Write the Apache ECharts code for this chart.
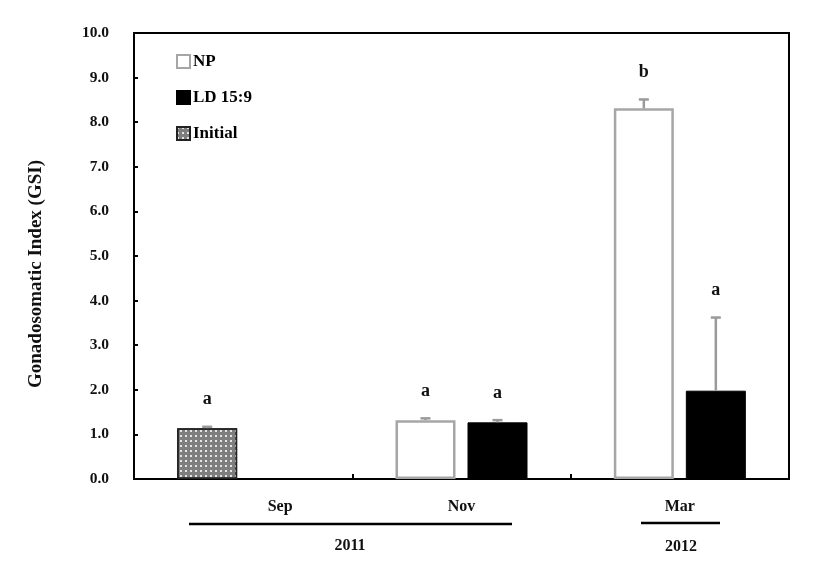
<!DOCTYPE html>
<html>
<head>
<meta charset="utf-8">
<script src="https://cdn.jsdelivr.net/npm/echarts@6/dist/echarts.min.js"></script>
<style>
html,body{margin:0;padding:0;background:#fff;}
#chart{width:827px;height:573px;}
</style>
</head>
<body>
<div id="chart"></div>
<script>
// ---- data ----
var categories = ['Sep', 'Nov', 'Mar'];
var initialValues = [1.14, '-', '-'];
var npValues = ['-', 1.32, 8.31];
var ldValues = ['-', 1.27, 1.98];
var initialErr = [0.03, null, null];
var npErr = [null, 0.04, 0.20];
var ldErr = [null, 0.05, 1.64];
var initialLetters = ['a', '', ''];
var npLetters = ['', 'a', 'b'];
var ldLetters = ['', 'a', 'a'];
var yTicks = [0, 1, 2, 3, 4, 5, 6, 7, 8, 9, 10];
var yearGroups = ['2011', '2012'];

var SERIF = '"Liberation Serif", "Times New Roman", serif';
var BAR_W = 60;
var BAR_GAP = 0.2;
var SLOT_OFF = BAR_W * (1 + BAR_GAP) / 2;

function errData(vals, errs, letters, slot) {
  var out = [];
  for (var i = 0; i < vals.length; i++) {
    if (vals[i] === '-' || errs[i] == null) continue;
    out.push([i, vals[i], errs[i], slot, letters[i]]);
  }
  return out;
}
var errAll = []
  .concat(errData(initialValues, initialErr, initialLetters, -1))
  .concat(errData(npValues, npErr, npLetters, -1))
  .concat(errData(ldValues, ldErr, ldLetters, 1));

var chart = echarts.init(document.getElementById('chart'), null, {renderer: 'canvas'});
var option = {
  backgroundColor: '#fff',
  animation: false,
  grid: {left: 134, top: 33, right: 38, bottom: 94, show: true, borderColor: '#000', borderWidth: 2, backgroundColor: 'transparent'},
  legend: {
    data: ['NP', 'LD 15:9', 'Initial'],
    orient: 'vertical',
    left: 171, top: 48,
    icon: 'rect',
    itemWidth: 13, itemHeight: 13, itemGap: 19,
    textStyle: {fontFamily: SERIF, fontWeight: 'bold', fontSize: 17, color: '#000', padding: [0, 0, 0, -2]}
  },
  xAxis: {
    type: 'category',
    data: categories,
    axisLine: {lineStyle: {color: '#000', width: 2}},
    axisTick: {show: true, inside: true, length: 5, lineStyle: {color: '#000', width: 2}},
    axisLabel: {
      margin: 20,
      fontFamily: SERIF, fontWeight: 'bold', fontSize: 16, color: '#111',
      formatter: function (v, i) { return i === 0 ? '{s|' + v + '}' : v; },
      rich: {s: {fontFamily: SERIF, fontWeight: 'bold', fontSize: 16, color: '#111', padding: [0, 0, 0, 74]}}
    },
    splitLine: {show: false}
  },
  yAxis: {
    type: 'value',
    min: yTicks[0], max: yTicks[yTicks.length - 1], interval: 1,
    name: 'Gonadosomatic Index (GSI)',
    nameLocation: 'middle',
    nameGap: 88,
    nameTextStyle: {fontFamily: SERIF, fontWeight: 'bold', fontSize: 19, color: '#111', padding: [0, 36, 0, 0]},
    axisLine: {show: true, lineStyle: {color: '#000', width: 2}},
    axisTick: {show: true, inside: true, length: 4, lineStyle: {color: '#000', width: 2}},
    axisLabel: {margin: 25, fontFamily: SERIF, fontWeight: 'bold', fontSize: 15.5, color: '#111',
      formatter: function (v) { return v.toFixed(1); }},
    splitLine: {show: false}
  },
  series: [
    {
      name: 'Initial', type: 'bar', stack: 's1', data: initialValues,
      barWidth: BAR_W, barGap: (BAR_GAP * 100) + '%',
      itemStyle: {
        color: '#7e7e7e', borderColor: '#222', borderWidth: 1.5,
        decal: {symbol: 'rect', symbolSize: 1, color: 'rgba(255,255,255,0.8)', dashArrayX: [2, 3], dashArrayY: [2, 3], rotation: 0}
      }
    },
    {
      name: 'NP', type: 'bar', stack: 's1', data: npValues,
      barWidth: BAR_W, barGap: (BAR_GAP * 100) + '%',
      itemStyle: {color: '#fff', borderColor: '#a6a6a6', borderWidth: 2.5}
    },
    {
      name: 'LD 15:9', type: 'bar', stack: 's2', data: ldValues,
      barWidth: BAR_W, barGap: (BAR_GAP * 100) + '%',
      itemStyle: {color: '#000', borderColor: '#000', borderWidth: 1}
    },
    {
      name: 'err', type: 'custom', data: errAll, z: 5,
      encode: {x: 0, y: 1},
      renderItem: function (params, api) {
        var idx = api.value(0), val = api.value(1), err = api.value(2), slot = api.value(3);
        var letter = errAll[params.dataIndex][4];
        var base = api.coord([idx, val]);
        var top = api.coord([idx, val + err]);
        var x = base[0] + slot * SLOT_OFF;
        var style = {stroke: '#9a9a9a', lineWidth: 2.5};
        return {
          type: 'group',
          children: [
            {type: 'line', shape: {x1: x, y1: base[1], x2: x, y2: top[1]}, style: style},
            {type: 'line', shape: {x1: x - 5, y1: top[1], x2: x + 5, y2: top[1]}, style: style},
            {type: 'text', x: x, y: top[1] - 27, style: {text: letter, textAlign: 'center', textVerticalAlign: 'middle',
              font: 'bold 18px ' + SERIF, fill: '#111'}}
          ]
        };
      }
    }
  ],
  graphic: [
    {type: 'line', shape: {x1: 189, y1: 524, x2: 512, y2: 524}, style: {stroke: '#000', lineWidth: 2.5}},
    {type: 'text', x: 350, y: 546, style: {text: yearGroups[0], textAlign: 'center', textVerticalAlign: 'middle', font: 'bold 16px ' + SERIF, fill: '#111'}},
    {type: 'line', shape: {x1: 641, y1: 523, x2: 720, y2: 523}, style: {stroke: '#000', lineWidth: 2.5}},
    {type: 'text', x: 681, y: 547, style: {text: yearGroups[1], textAlign: 'center', textVerticalAlign: 'middle', font: 'bold 16px ' + SERIF, fill: '#111'}}
  ]
};
chart.setOption(option);
</script>
</body>
</html>
